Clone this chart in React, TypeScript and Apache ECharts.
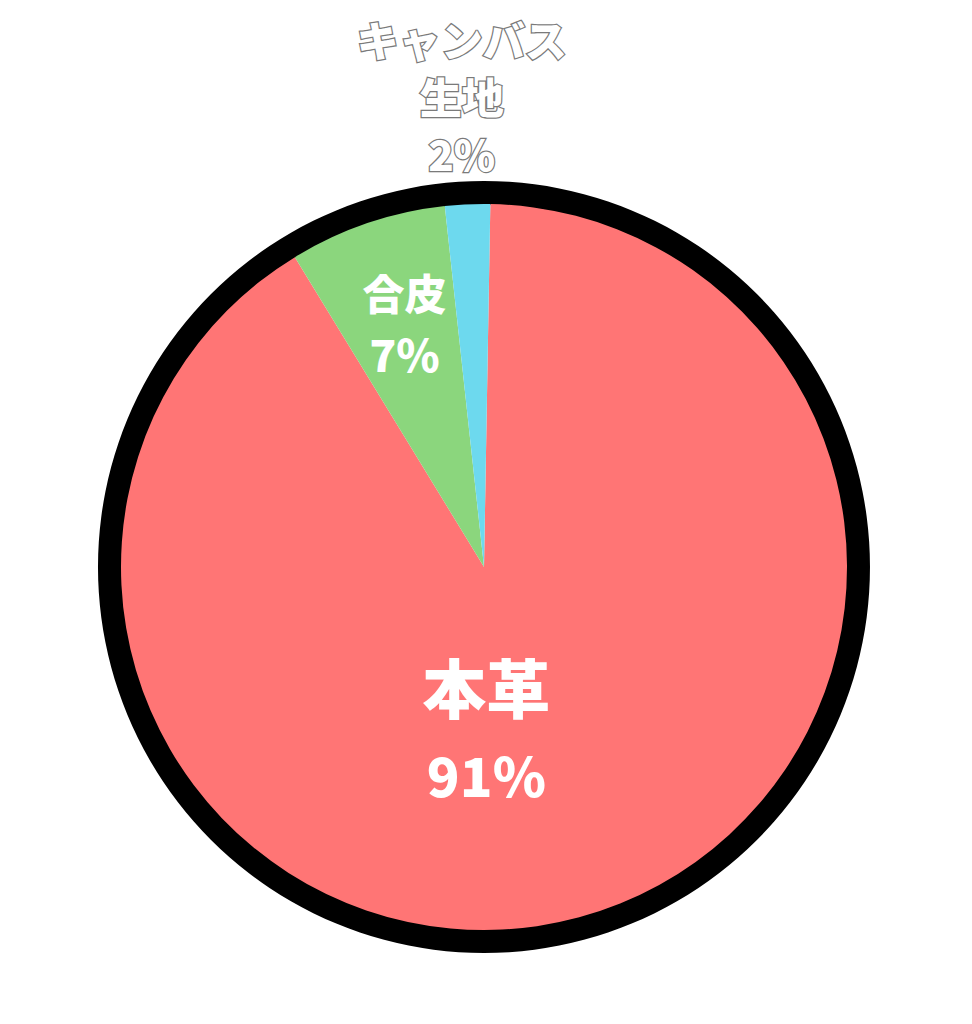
import { useRef, useEffect } from 'react'
import * as echarts from 'echarts'

// 素材の割合（%）
const MATERIALS = ['本革', '合皮', 'キャンバス\n生地']
const SHARES = [91, 7, 2]
const COLORS = ['#FF7575', '#8BD67D', '#6DD9EE']

// ラベルの大きさ・位置調整
const NAME_SIZE = [64, 42, 42]
const PCT_SIZE = [54, 44, 42]
const LINE_H = [88, 62, 57]
const LABEL_SHIFT: [number, number][] = [[-46, -16], [-20, -70], [-14, -287]]

const FONT = '"Noto Sans CJK JP", "Noto Sans", sans-serif'

function buildOption() {
  const data = MATERIALS.map((name, i) => {
    const outlined = i === 2
    const base = {
      color: '#fff',
      fontFamily: FONT,
      fontWeight: 900 as const,
      textBorderColor: outlined ? '#7a7a7a' : 'transparent',
      textBorderWidth: outlined ? 2.5 : 0,
      align: 'center' as const,
    }
    return {
      name,
      value: SHARES[i],
      itemStyle: { color: COLORS[i] },
      label: {
        rich: {
          n: { ...base, fontSize: NAME_SIZE[i], lineHeight: LINE_H[i] },
          p: { ...base, fontSize: PCT_SIZE[i], lineHeight: LINE_H[i] },
        },
      },
    }
  })

  return {
    animation: false,
    backgroundColor: '#fff',
    series: [
      {
        // 黒いふち
        type: 'pie',
        center: [484, 567],
        radius: [362, 386],
        silent: true,
        label: { show: false },
        labelLine: { show: false },
        data: [{ value: 1, itemStyle: { color: '#000' } }],
        z: 1,
      },
      {
        type: 'pie',
        center: [484, 567],
        radius: 363,
        startAngle: 89,
        clockwise: true,
        avoidLabelOverlap: false,
        itemStyle: { borderWidth: 0 },
        label: {
          show: true,
          position: 'inside',
          formatter: (p: { name: string; percent: number }) => {
            const names = p.name.split('\n').map((s) => `{n|${s}}`).join('\n')
            return `${names}\n{p|${Math.round(p.percent)}%}`
          },
        },
        labelLine: { show: false },
        labelLayout: (params: { dataIndex: number }) => ({
          dx: LABEL_SHIFT[params.dataIndex][0],
          dy: LABEL_SHIFT[params.dataIndex][1],
        }),
        emphasis: { disabled: true },
        data,
        z: 2,
      },
    ],
  }
}

export default function App() {
  const ref = useRef<HTMLDivElement>(null)

  useEffect(() => {
    document.body.style.margin = '0'
    if (!ref.current) return
    const chart = echarts.init(ref.current, null, { renderer: 'svg' })
    chart.setOption(buildOption() as echarts.EChartsOption)
    return () => chart.dispose()
  }, [])

  return <div ref={ref} style={{ width: 972, height: 1024 }} />
}
